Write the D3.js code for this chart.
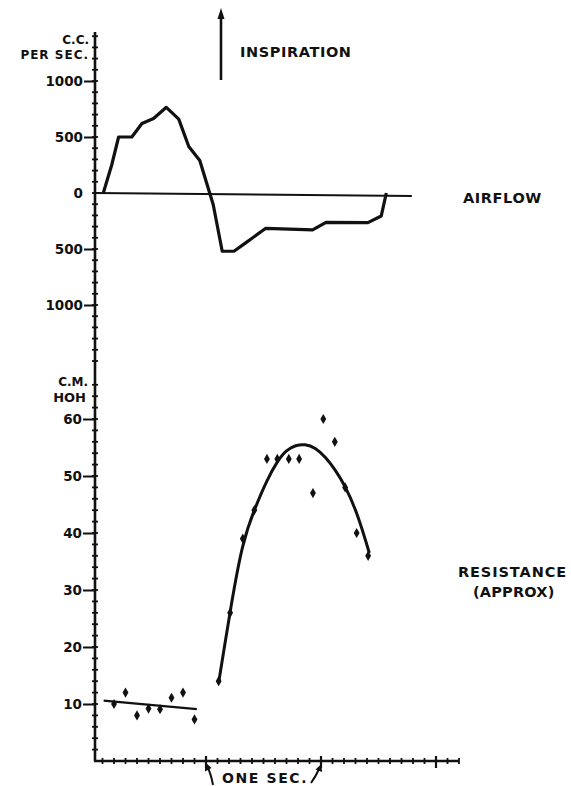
<!DOCTYPE html>
<html>
<head>
<meta charset="utf-8">
<title>Airflow and resistance</title>
<style>
    body { margin: 0; background: #fff; }
    text { font-family: "DejaVu Sans", sans-serif; font-weight: bold; fill: #111; }
</style>
<script src="https://cdn.jsdelivr.net/npm/d3@7"></script>
</head>
<body>
<script>
    var width = 571
    var height = 786

    // airflow trace (seconds, cc per sec)
    var airTime = [0.107, 0.18, 0.24, 0.355, 0.443, 0.544, 0.655, 0.763, 0.85, 0.946, 1.063, 1.141, 1.243, 1.345, 1.52, 1.927, 2.044, 2.408, 2.524, 2.568]
    var airValue = [0, 250, 500, 500, 620, 665, 765, 660, 415, 290, -105, -520, -520, -445, -315, -330, -262, -265, -205, 0]

    // resistance points (seconds, cm H2O)
    var resTime = [0.2, 0.3, 0.4, 0.5, 0.6, 0.7, 0.8, 0.9, 1.11, 1.21, 1.32, 1.42, 1.53, 1.62, 1.72, 1.81, 1.93, 2.02, 2.12, 2.21, 2.31, 2.41]
    var resValue = [10, 12, 8, 9.2, 9.1, 11.1, 12, 7.3, 14, 26, 39, 44, 53, 53, 53, 53, 47, 60, 56, 48, 40, 36]

    // expiratory fit line and inspiratory curve
    var fitTime = [0.11, 0.92]
    var fitValue = [10.6, 9.1]
    var curveTime = [1.112, 1.16, 1.21, 1.316, 1.43, 1.53, 1.62, 1.70, 1.78, 1.86, 1.95, 2.04, 2.12, 2.21, 2.32, 2.42]
    var curveValue = [14, 20, 26.3, 38.5, 44.6, 49.3, 52.6, 54.6, 55.4, 55.6, 55.0, 53.3, 51.2, 48.3, 43.3, 36.5]

    var airTicks = [1000, 500, 0, -500, -1000]
    var resTicks = [60, 50, 40, 30, 20, 10]
    var secTicks = [1, 2, 3]

    var svg = d3.select("body").append("svg")
        .attr("width", width)
        .attr("height", height)

    svg.append("rect").attr("width", width).attr("height", height).attr("fill", "#fff")

    var x = d3.scaleLinear().domain([0, 3.2]).range([91, 459])
    var yAir = d3.scaleLinear().domain([-1000, 1000]).range([305, 81])
    var yRes = d3.scaleLinear().domain([0, 60]).range([761, 419])

    var axisX = 95

    // vertical axis line
    svg.append("line")
        .attr("x1", axisX).attr("x2", axisX)
        .attr("y1", 32).attr("y2", 761)
        .attr("stroke", "#111").attr("stroke-width", 2.6)

    // horizontal axis line
    svg.append("line")
        .attr("x1", axisX - 1).attr("x2", x(3.2))
        .attr("y1", yRes(0)).attr("y2", yRes(0))
        .attr("stroke", "#111").attr("stroke-width", 2.6)

    // minor ticks on the vertical axis
    var minorAir = d3.range(-1500, 1401, 100)
    var minorRes = d3.range(2, 67, 2)
    var minorY = minorAir.map(yAir).concat(minorRes.map(yRes))
    svg.append("g").selectAll("line")
        .data(minorY)
        .join("line")
        .attr("x1", axisX - 3).attr("x2", axisX + 3)
        .attr("y1", d => d).attr("y2", d => d)
        .attr("stroke", "#111").attr("stroke-width", 1.8)

    // minor ticks on the time axis
    svg.append("g").selectAll("line")
        .data(d3.range(0.1, 3.21, 0.1))
        .join("line")
        .attr("x1", d => x(d)).attr("x2", d => x(d))
        .attr("y1", yRes(0) - 3).attr("y2", yRes(0) + 3)
        .attr("stroke", "#111").attr("stroke-width", 1.8)

    // major time ticks
    svg.append("g").selectAll("line")
        .data(secTicks)
        .join("line")
        .attr("x1", d => x(d)).attr("x2", d => x(d))
        .attr("y1", yRes(0) - 5).attr("y2", yRes(0) + 7)
        .attr("stroke", "#111").attr("stroke-width", 2.2)

    // labelled axes
    var airAxis = d3.axisLeft(yAir)
        .tickValues(airTicks)
        .tickSize(11)
        .tickPadding(1)
        .tickFormat(d => Math.abs(d))
    var gAir = svg.append("g")
        .attr("transform", "translate(" + axisX + ",0)")
        .call(airAxis)
    gAir.select(".domain").remove()
    gAir.selectAll(".tick line").attr("stroke", "#111").attr("stroke-width", 2)
        .filter(d => d == 0).remove()
    gAir.selectAll(".tick text")
        .attr("font-size", 13.5).attr("font-family", "DejaVu Sans").attr("font-weight", "bold")
        .attr("fill", "#111")

    var resAxis = d3.axisLeft(yRes)
        .tickValues(resTicks)
        .tickSize(12)
        .tickPadding(1)
    var gRes = svg.append("g")
        .attr("transform", "translate(" + axisX + ",0)")
        .call(resAxis)
    gRes.select(".domain").remove()
    gRes.selectAll(".tick line").attr("stroke", "#111").attr("stroke-width", 2)
    gRes.selectAll(".tick text")
        .attr("font-size", 13.5).attr("font-family", "DejaVu Sans").attr("font-weight", "bold")
        .attr("fill", "#111")

    // airflow zero line
    svg.append("line")
        .attr("x1", axisX).attr("x2", x(2.79))
        .attr("y1", yAir(0)).attr("y2", yAir(0) + 3)
        .attr("stroke", "#111").attr("stroke-width", 1.8)

    // airflow trace
    var airLine = d3.line()
        .x(d => x(d[0]))
        .y(d => yAir(d[1]))
    svg.append("path")
        .datum(d3.zip(airTime, airValue))
        .attr("d", airLine)
        .attr("fill", "none")
        .attr("stroke", "#111")
        .attr("stroke-width", 3.2)
        .attr("stroke-linejoin", "round")

    // resistance fit line + curve
    var resLine = d3.line()
        .x(d => x(d[0]))
        .y(d => yRes(d[1]))
    svg.append("path")
        .datum(d3.zip(fitTime, fitValue))
        .attr("d", resLine)
        .attr("fill", "none")
        .attr("stroke", "#111")
        .attr("stroke-width", 2.4)
    svg.append("path")
        .datum(d3.zip(curveTime, curveValue))
        .attr("d", resLine.curve(d3.curveBasis))
        .attr("fill", "none")
        .attr("stroke", "#111")
        .attr("stroke-width", 3)

    // resistance points
    var marker = d3.symbol().type(d3.symbolDiamond).size(30)
    svg.append("g").selectAll("path")
        .data(d3.zip(resTime, resValue))
        .join("path")
        .attr("transform", d => "translate(" + x(d[0]) + "," + yRes(d[1]) + ")")
        .attr("d", marker)
        .attr("fill", "#111")

    // inspiration arrow
    svg.append("line")
        .attr("x1", 221).attr("x2", 221)
        .attr("y1", 80).attr("y2", 16)
        .attr("stroke", "#111").attr("stroke-width", 2.6)
    svg.append("path")
        .attr("d", "M221,8 L224.5,19 L217.5,19 Z")
        .attr("fill", "#111")

    // labels
    function label(txt, tx, ty, size, anchor) {
        return svg.append("text")
            .attr("x", tx).attr("y", ty)
            .attr("font-size", size)
            .attr("text-anchor", anchor || "start")
            .text(txt)
    }
    label("C.C.", 89, 44, 12, "end")
    label("PER SEC.", 89, 59, 12, "end").attr("letter-spacing", 1)
    label("C.M.", 88, 386, 12, "end")
    label("HOH", 86, 402, 13, "end")
    label("INSPIRATION", 240, 57, 14.5).attr("letter-spacing", 0.6)
    label("AIRFLOW", 463, 203, 14.5).attr("letter-spacing", 0.6)
    label("RESISTANCE", 458, 577, 14.5).attr("letter-spacing", 0.9)
    label("(APPROX)", 473, 597, 14.5).attr("letter-spacing", 0.2)
    label("ONE SEC.", 222, 783, 14).attr("letter-spacing", 1.6)

    // one second bracket arrows
    svg.append("path")
        .attr("d", "M213,785 Q211,774 207.5,767")
        .attr("fill", "none").attr("stroke", "#111").attr("stroke-width", 2)
    svg.append("path")
        .attr("d", "M205,762 L211.5,768 L205,771.5 Z")
        .attr("fill", "#111")
    svg.append("path")
        .attr("d", "M311,783 Q316,776 319,769")
        .attr("fill", "none").attr("stroke", "#111").attr("stroke-width", 2)
    svg.append("path")
        .attr("d", "M321.5,764 L322,772 L315.5,769.5 Z")
        .attr("fill", "#111")
</script>
</body>
</html>
